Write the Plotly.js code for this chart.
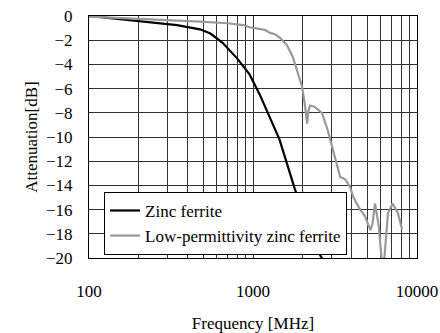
<!DOCTYPE html>
<html>
<head>
<meta charset="utf-8">
<script src="https://cdn.plot.ly/plotly-3.0.1.min.js"></script>
<style>html,body{margin:0;padding:0;background:#fff;}#chart{width:440px;height:333px;}</style>
</head>
<body>
<div id="chart"></div>
<script>
const zincFreq = [100,130,185,250,300,344,400,475,550,650,800,950,1100,1270,1450,1620,1800,2000,2200,2460,2700];
const zincDb = [0,-0.15,-0.4,-0.55,-0.66,-0.75,-0.92,-1.1,-1.45,-2.2,-3.5,-4.8,-6.5,-8.4,-10.2,-12.3,-14.3,-16.0,-17.6,-19.3,-20.3];

const lowFreq = [100,150,200,385,475,700,870,955,1100,1180,1270,1360,1460,1610,1750,1880,1990,2080,2140,2170,2230,2370,2630,2850,3070,3250,3400,3650,3900,4100,4500,4800,5200,5350,5550,5850,6100,6300,6650,7100,7650,8100];
const lowDb = [-0.05,-0.15,-0.25,-0.4,-0.47,-0.6,-0.75,-0.93,-1.1,-1.15,-1.4,-1.5,-1.8,-2.4,-3.4,-4.7,-5.8,-7.5,-8.9,-7.9,-7.4,-7.5,-8.0,-9.4,-11.0,-12.4,-13.3,-13.5,-14.1,-15.0,-16.0,-16.5,-17.7,-17.2,-15.5,-17.4,-20.3,-20.3,-16.3,-15.5,-16.3,-17.6];

const seriesNames = ["Zinc ferrite", "Low-permittivity zinc ferrite"];

const xTickVals = [100,200,300,400,500,600,700,800,900,1000,2000,3000,4000,5000,6000,7000,8000,9000,10000];
const xTickText = ["100","","","","","","","","","1000","","","","","","","","","10000"];
const yTickVals = [0,-2,-4,-6,-8,-10,-12,-14,-16,-18,-20];

const font = {family: "Liberation Serif, Times New Roman, serif", size: 17, color: "#000"};

const traces = [
  {x: zincFreq, y: zincDb, name: seriesNames[0], mode: "lines", line: {color: "#000000", width: 2.2}},
  {x: lowFreq, y: lowDb, name: seriesNames[1], mode: "lines", line: {color: "#999999", width: 2.2}}
];

const layout = {
  width: 440, height: 333,
  margin: {l: 89, r: 23, t: 16, b: 75},
  paper_bgcolor: "#fff", plot_bgcolor: "#fff",
  font: font,
  showlegend: true,
  legend: {x: 0.046, y: 0.273, xanchor: "left", yanchor: "top", bgcolor: "#fff",
    bordercolor: "#000", borderwidth: 1, font: font, tracegroupgap: 0},
  xaxis: {
    type: "log", range: [2, 4], tickmode: "array", tickvals: xTickVals, ticktext: xTickText,
    showgrid: true, gridcolor: "#333", gridwidth: 1, ticks: "", showline: true, linecolor: "#000",
    linewidth: 1, mirror: true, zeroline: false, ticklabelstandoff: 18,
    title: {text: "Frequency [MHz]", font: font, standoff: 16}, automargin: false
  },
  yaxis: {
    range: [-20, 0], tickmode: "array", tickvals: yTickVals,
    showgrid: true, gridcolor: "#333", gridwidth: 1, ticks: "", showline: true, linecolor: "#000",
    linewidth: 1, mirror: true, zeroline: false, ticklabelstandoff: 12,
    title: {text: "Attenuation[dB]", font: font, standoff: 4}, automargin: false
  }
};

Plotly.newPlot("chart", traces, layout, {displayModeBar: false, staticPlot: true});
</script>
</body>
</html>
